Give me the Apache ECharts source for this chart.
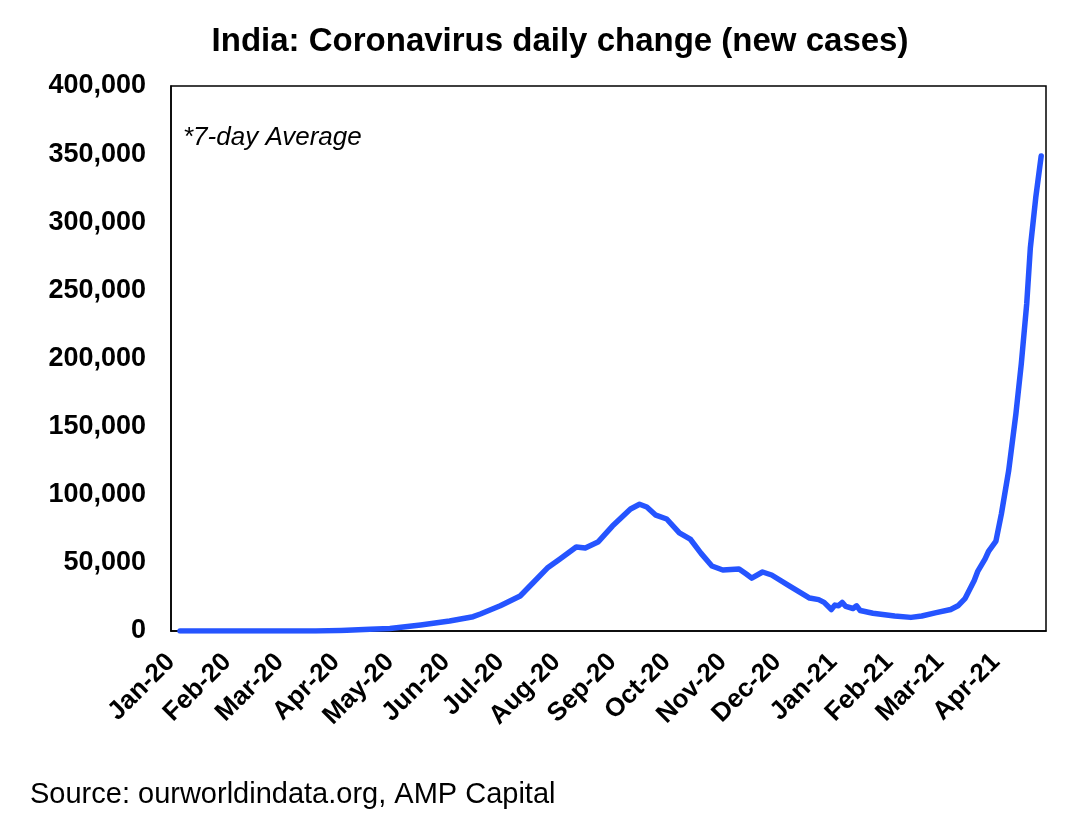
<!DOCTYPE html>
<html>
<head>
<meta charset="utf-8">
<script src="https://cdn.jsdelivr.net/npm/echarts@6/dist/echarts.min.js"></script>
<style>
  html, body { margin: 0; padding: 0; background: #fff; }
  #chart { width: 1083px; height: 829px; }
</style>
</head>
<body>
<div id="chart"></div>
<script>
// 7-day average of new cases
var dates = [
    '2020-01-06', '2020-03-01', '2020-03-21', '2020-04-04', '2020-04-20', '2020-05-01',
    '2020-05-18', '2020-06-03', '2020-06-16', '2020-06-20', '2020-07-01', '2020-07-12',
    '2020-07-19', '2020-07-27', '2020-08-03', '2020-08-12', '2020-08-17', '2020-08-24',
    '2020-09-01', '2020-09-11', '2020-09-16', '2020-09-20', '2020-09-25', '2020-10-01',
    '2020-10-08', '2020-10-14', '2020-10-20', '2020-10-26', '2020-11-01', '2020-11-10',
    '2020-11-14', '2020-11-17', '2020-11-23', '2020-11-28', '2020-12-08', '2020-12-19',
    '2020-12-24', '2020-12-27', '2020-12-31', '2021-01-02', '2021-01-04', '2021-01-06',
    '2021-01-08', '2021-01-12', '2021-01-14', '2021-01-16', '2021-01-23', '2021-02-04',
    '2021-02-13', '2021-02-19', '2021-02-27', '2021-03-07', '2021-03-11', '2021-03-15',
    '2021-03-20', '2021-03-22', '2021-03-26', '2021-03-28', '2021-04-01', '2021-04-04',
    '2021-04-08', '2021-04-12', '2021-04-15', '2021-04-18', '2021-04-20', '2021-04-23',
    '2021-04-26'
];
var newCases = [
    0, 0, 50, 400, 1200, 1800,
    4400, 7300, 10500, 12500, 18500, 25700,
    35200, 46200, 52800, 61600, 61000, 65300,
    77000, 89500, 93000, 91000, 85000, 82200,
    72000, 67500, 57000, 47700, 44800, 45500,
    41800, 38800, 43300, 41100, 33000, 24200,
    23000, 21000, 15800, 19000, 18500, 21000,
    18000, 16500, 18500, 15000, 13000, 11000,
    10000, 11000, 13500, 15800, 18500, 24000,
    37000, 44000, 53000, 58700, 66000, 85900,
    117400, 159000, 196000, 240000, 281000, 318000,
    348600
];
var monthNames = ['Jan','Feb','Mar','Apr','May','Jun','Jul','Aug','Sep','Oct','Nov','Dec'];

var font = "'Liberation Sans', Arial, sans-serif";

var myChart = echarts.init(document.getElementById('chart'));
myChart.setOption({
    animation: false,
    grid: {
        left: 171,
        right: 37,
        top: 86,
        bottom: 198,
        show: true,
        borderColor: '#000',
        borderWidth: 1.5
    },
    graphic: [
        {
            type: 'text',
            x: 560,
            y: 42,
            style: {
                text: 'India: Coronavirus daily change (new cases)',
                font: 'bold 33px ' + font,
                fill: '#000',
                textAlign: 'center',
                textVerticalAlign: 'middle'
            }
        },
        {
            type: 'text',
            x: 183,
            y: 138,
            style: {
                text: '*7-day Average',
                font: 'italic 26px ' + font,
                fill: '#000',
                textAlign: 'left',
                textVerticalAlign: 'middle'
            }
        },
        {
            type: 'text',
            x: 30,
            y: 795,
            style: {
                text: 'Source: ourworldindata.org, AMP Capital',
                font: '29px ' + font,
                fill: '#000',
                textAlign: 'left',
                textVerticalAlign: 'middle'
            }
        }
    ],
    xAxis: {
        type: 'time',
        min: '2020-01-01',
        max: '2021-04-28 16:00',
        splitNumber: 16,
        maxInterval: 31 * 24 * 3600 * 1000,
        axisLine: { show: true, lineStyle: { color: '#000', width: 1.5 } },
        axisTick: { show: false },
        splitLine: { show: false },
        axisLabel: {
            rotate: 45,
            margin: 27,
            showMaxLabel: false,
            color: '#000',
            fontSize: 26,
            fontWeight: 'bold',
            fontFamily: font,
            formatter: function (val) {
                var d = new Date(val);
                return monthNames[d.getMonth()] + '-' + String(d.getFullYear()).slice(2);
            }
        }
    },
    yAxis: {
        type: 'value',
        min: 0,
        max: 400000,
        interval: 50000,
        axisLine: { show: true, lineStyle: { color: '#000', width: 1.5 } },
        axisTick: { show: false },
        splitLine: { show: false },
        axisLabel: {
            margin: 25,
            color: '#000',
            fontSize: 27,
            fontWeight: 'bold',
            fontFamily: font,
            formatter: function (v) {
                return v.toLocaleString('en-US');
            }
        }
    },
    series: [
        {
            name: 'New cases',
            type: 'line',
            showSymbol: false,
            smooth: false,
            lineStyle: {
                color: '#2554FF',
                width: 5.5,
                cap: 'round',
                join: 'round'
            },
            data: dates.map(function (d, i) { return [d, newCases[i]]; })
        }
    ]
});
</script>
</body>
</html>
